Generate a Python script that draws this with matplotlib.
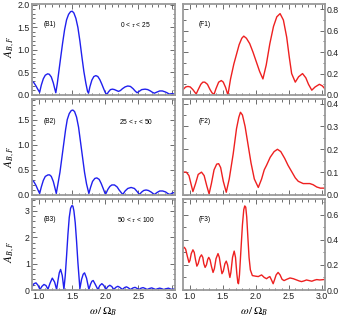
import matplotlib
matplotlib.use("Agg")
import matplotlib.pyplot as plt
from matplotlib.ticker import MultipleLocator

plt.rcParams['font.family'] = ['Liberation Sans', 'DejaVu Sans']
plt.rcParams['mathtext.fontset'] = 'stix'

# --- data ---
b1_x = [0.90, 0.93, 0.96, 0.99, 1.015, 1.04, 1.07, 1.10, 1.135, 1.16, 1.19, 1.22, 1.24, 1.258,
        1.28, 1.30, 1.33, 1.36, 1.39, 1.42, 1.45, 1.48, 1.505, 1.53, 1.56, 1.59, 1.62, 1.65,
        1.68, 1.71, 1.735, 1.75, 1.77, 1.80, 1.83, 1.86, 1.89, 1.92, 1.95, 1.98, 2.00, 2.025,
        2.05, 2.08, 2.11, 2.14, 2.17, 2.20, 2.23, 2.26, 2.30, 2.34, 2.38, 2.42, 2.45, 2.48,
        2.51, 2.55, 2.60, 2.64, 2.68, 2.71, 2.74, 2.77, 2.82, 2.86, 2.90, 2.93, 2.965, 3.00, 3.05]
b1_y = [0.31, 0.27, 0.20, 0.12, 0.06, 0.22, 0.36, 0.44, 0.47, 0.46, 0.40, 0.27, 0.15, 0.05,
        0.25, 0.48, 0.82, 1.15, 1.45, 1.67, 1.79, 1.85, 1.86, 1.82, 1.70, 1.50, 1.20, 0.85,
        0.52, 0.26, 0.08, 0.04, 0.18, 0.33, 0.41, 0.43, 0.41, 0.34, 0.24, 0.13, 0.06, 0.01,
        0.07, 0.12, 0.13, 0.12, 0.10, 0.08, 0.10, 0.14, 0.18, 0.20, 0.19, 0.14, 0.09, 0.05,
        0.08, 0.12, 0.13, 0.12, 0.09, 0.06, 0.04, 0.06, 0.09, 0.09, 0.07, 0.05, 0.02, 0.03, 0.02]

b2_x = [0.90, 0.93, 0.96, 0.99, 1.015, 1.04, 1.07, 1.10, 1.14, 1.165, 1.19, 1.22, 1.245, 1.265,
        1.29, 1.32, 1.35, 1.38, 1.405, 1.43, 1.46, 1.49, 1.515, 1.54, 1.57, 1.60, 1.63, 1.66,
        1.69, 1.72, 1.755, 1.78, 1.81, 1.845, 1.875, 1.91, 1.94, 1.97, 2.005, 2.04, 2.07,
        2.10, 2.14, 2.18, 2.21, 2.24, 2.265, 2.30, 2.34, 2.39, 2.44, 2.48, 2.515, 2.55, 2.58,
        2.615, 2.65, 2.69, 2.74, 2.78, 2.82, 2.865, 2.91, 2.94, 2.975, 3.01, 3.05]
b2_y = [0.30, 0.26, 0.19, 0.10, 0.03, 0.16, 0.29, 0.37, 0.40, 0.40, 0.37, 0.27, 0.14, 0.03,
        0.22, 0.45, 0.75, 1.05, 1.30, 1.50, 1.62, 1.68, 1.69, 1.66, 1.55, 1.35, 1.05, 0.75,
        0.45, 0.22, 0.03, 0.15, 0.27, 0.33, 0.34, 0.31, 0.23, 0.13, 0.01, 0.11, 0.17,
        0.20, 0.20, 0.16, 0.10, 0.05, 0.01, 0.08, 0.13, 0.15, 0.13, 0.07, 0.01, 0.06, 0.09,
        0.10, 0.09, 0.06, 0.01, 0.05, 0.08, 0.08, 0.06, 0.03, 0.01, 0.04, 0.05]

b3_x = [0.90, 0.93, 0.96, 0.99, 1.02, 1.05, 1.08, 1.11, 1.14, 1.17, 1.205, 1.24, 1.27,
        1.29, 1.31, 1.33, 1.355, 1.38, 1.40, 1.42, 1.44, 1.46, 1.48, 1.50, 1.515, 1.53, 1.55,
        1.57, 1.59, 1.62, 1.645, 1.67, 1.69, 1.72, 1.755, 1.78, 1.80, 1.82, 1.85, 1.89,
        1.92, 1.95, 1.98, 2.01, 2.04, 2.07, 2.10, 2.13, 2.16, 2.19, 2.22, 2.26, 2.29, 2.32,
        2.35, 2.38, 2.42, 2.45, 2.48, 2.51, 2.54, 2.57, 2.60, 2.63, 2.67, 2.70, 2.73, 2.76,
        2.79, 2.82, 2.85, 2.88, 2.92, 2.95, 2.98, 3.01, 3.05]
b3_y = [0.12, 0.24, 0.27, 0.18, 0.02, 0.14, 0.21, 0.17, 0.03, 0.25, 0.45, 0.30, 0.02,
        0.35, 0.65, 0.78, 0.55, 0.03, 0.55, 1.30, 2.10, 2.75, 3.10, 3.20, 3.18, 3.00, 2.55,
        1.85, 1.05, 0.05, 0.40, 0.60, 0.65, 0.45, 0.02, 0.22, 0.33, 0.36, 0.22, 0.02,
        0.17, 0.24, 0.17, 0.02, 0.13, 0.18, 0.13, 0.02, 0.10, 0.14, 0.10, 0.02, 0.09, 0.12,
        0.08, 0.02, 0.08, 0.10, 0.06, 0.02, 0.07, 0.09, 0.06, 0.02, 0.06, 0.08, 0.05, 0.02,
        0.05, 0.07, 0.05, 0.02, 0.05, 0.07, 0.04, 0.02, 0.05]

f1_x = [0.90, 0.94, 0.975, 1.01, 1.05, 1.08, 1.10, 1.13, 1.17, 1.20, 1.23, 1.27, 1.31, 1.34,
        1.37, 1.40, 1.44, 1.48, 1.51, 1.545, 1.58, 1.62, 1.67, 1.71, 1.75, 1.79, 1.82, 1.86,
        1.91, 1.96, 2.01, 2.06, 2.11, 2.16, 2.215, 2.27, 2.32, 2.37, 2.42, 2.47, 2.51, 2.545,
        2.60, 2.65, 2.71, 2.76, 2.80, 2.85, 2.90, 2.965, 3.01, 3.06]
f1_y = [0.05, 0.075, 0.08, 0.075, 0.05, 0.025, 0.01, 0.05, 0.10, 0.12, 0.12, 0.10, 0.05, 0.02,
        0.006, 0.06, 0.12, 0.135, 0.12, 0.07, 0.0, 0.15, 0.29, 0.38, 0.47, 0.53, 0.55, 0.53,
        0.48, 0.40, 0.31, 0.22, 0.15, 0.28, 0.48, 0.64, 0.73, 0.76, 0.70, 0.54, 0.35, 0.20,
        0.12, 0.17, 0.20, 0.16, 0.10, 0.045, 0.075, 0.10, 0.085, 0.05]

f2_x = [0.90, 0.95, 0.99, 1.02, 1.05, 1.09, 1.13, 1.18, 1.22, 1.26, 1.295, 1.33, 1.37, 1.41,
        1.44, 1.47, 1.51, 1.555, 1.60, 1.66, 1.71, 1.745, 1.77, 1.80, 1.84, 1.885, 1.93, 1.98,
        2.04, 2.09, 2.13, 2.165, 2.22, 2.28, 2.33, 2.38, 2.44, 2.49, 2.55, 2.60, 2.645, 2.72,
        2.78, 2.82, 2.87, 2.925, 2.98, 3.06]
f2_y = [0.10, 0.10, 0.085, 0.05, 0.015, 0.05, 0.09, 0.10, 0.085, 0.04, 0.005, 0.05, 0.11, 0.135,
        0.137, 0.12, 0.06, 0.012, 0.07, 0.18, 0.29, 0.34, 0.362, 0.35, 0.30, 0.22, 0.14, 0.07,
        0.033, 0.07, 0.11, 0.13, 0.165, 0.19, 0.20, 0.19, 0.16, 0.13, 0.10, 0.075, 0.06, 0.05,
        0.05, 0.05, 0.045, 0.035, 0.03, 0.03]

f3_x = [0.90, 0.92, 0.94, 0.965, 0.99, 1.005, 1.025, 1.05, 1.07, 1.09, 1.11, 1.13, 1.155,
        1.18, 1.20, 1.215, 1.235, 1.255, 1.275, 1.29, 1.31, 1.33, 1.355, 1.375, 1.40, 1.43,
        1.45, 1.47, 1.49, 1.51, 1.535, 1.555, 1.575, 1.595, 1.61, 1.625, 1.65, 1.675, 1.695,
        1.715, 1.73, 1.74, 1.755, 1.775, 1.80, 1.82, 1.835, 1.85, 1.865, 1.88, 1.90, 1.92,
        1.95, 2.00, 2.04, 2.07, 2.09, 2.13, 2.165, 2.19, 2.215, 2.24, 2.265, 2.285, 2.31,
        2.34, 2.37, 2.40, 2.43, 2.47, 2.52, 2.57, 2.62, 2.66, 2.695, 2.73, 2.77, 2.81, 2.85,
        2.89, 2.925, 2.97, 3.01, 3.06]
f3_y = [0.33, 0.34, 0.325, 0.27, 0.22, 0.235, 0.29, 0.32, 0.30, 0.24, 0.19, 0.21, 0.26,
        0.28, 0.26, 0.21, 0.18, 0.20, 0.245, 0.26, 0.24, 0.19, 0.14, 0.17, 0.25, 0.29,
        0.26, 0.19, 0.13, 0.15, 0.21, 0.23, 0.20, 0.14, 0.10, 0.14, 0.26, 0.31, 0.26,
        0.13, 0.06, 0.05, 0.12, 0.30, 0.52, 0.64, 0.67, 0.66, 0.58, 0.44, 0.26, 0.16,
        0.115, 0.11, 0.107, 0.115, 0.12, 0.10, 0.09, 0.10, 0.107, 0.08, 0.05, 0.08, 0.12,
        0.14, 0.12, 0.085, 0.075, 0.085, 0.096, 0.09, 0.08, 0.072, 0.067, 0.072, 0.08, 0.075, 0.07,
        0.078, 0.083, 0.08, 0.082, 0.085]

tags_b = ["(B1)", "(B2)", "(B3)"]
tags_f = ["(F1)", "(F2)", "(F3)"]
ranges = [r"0 < $\tau$ < 25", r"25 < $\tau$ < 50", r"50 < $\tau$ < 100"]

blue_series = [(b1_x, b1_y), (b2_x, b2_y), (b3_x, b3_y)]
red_series = [(f1_x, f1_y), (f2_x, f2_y), (f3_x, f3_y)]

# limits / ticks per row (left, right)
ylims_b = [2.02, 1.91, 3.45]
ymaj_b = [0.5, 0.5, 1.0]
ymin_b = [0.1, 0.1, 0.2]
ylims_f = [0.85, 0.42, 0.725]
ymaj_f = [0.2, 0.1, 0.2]
ymin_f = [0.1, 0.05, 0.1]

W, H = 345, 318
fig = plt.figure(figsize=(W / 100, H / 100), dpi=100)

rows_px = [(4, 95), (99, 195), (199, 290)]
cols_px = [(32, 175), (183, 325)]
ylab_pos = [0.53, 0.40, 0.42]

spine_c = '#9a9a9a'


def style(ax, ylim, maj, mnr, bottom, right):
    ax.set_xlim(0.9, 3.05)
    ax.set_ylim(0, ylim)
    ax.xaxis.set_major_locator(MultipleLocator(0.5))
    ax.xaxis.set_minor_locator(MultipleLocator(0.1))
    ax.yaxis.set_major_locator(MultipleLocator(maj))
    ax.yaxis.set_minor_locator(MultipleLocator(mnr))
    for s in ax.spines.values():
        s.set_color(spine_c)
        s.set_linewidth(1.3)
    ax.tick_params(which='both', direction='in', top=True, right=True,
                   color='#555555', width=0.6, labelsize=6.3, labelcolor='#222222', pad=1.5)
    ax.tick_params(which='major', length=3.5)
    ax.tick_params(which='minor', length=1.8)
    if not bottom:
        ax.tick_params(labelbottom=False)
    if right:
        ax.tick_params(labelleft=False, labelright=True)


for r in range(3):
    y0, y1 = rows_px[r]
    bottom = (H - y1) / H
    height = (y1 - y0) / H
    last = r == 2

    (x0, x1) = cols_px[0]
    axb = fig.add_axes([x0 / W, bottom, (x1 - x0) / W, height])
    axb.plot(blue_series[r][0], blue_series[r][1], color='#2020ee', lw=1.0)
    style(axb, ylims_b[r], ymaj_b[r], ymin_b[r], last, False)
    axb.text(1.175, 0.77, tags_b[r], transform=axb.get_xaxis_transform(),
             fontsize=4.8, ha='center', va='center')
    axb.text(2.46, 0.77, ranges[r], transform=axb.get_xaxis_transform(),
             fontsize=4.8, ha='center', va='center')
    axb.set_ylabel(r'$A_{B,F}$', fontsize=8, labelpad=0)
    axb.yaxis.set_label_coords(-0.105, ylab_pos[r])

    (x0, x1) = cols_px[1]
    axf = fig.add_axes([x0 / W, bottom, (x1 - x0) / W, height])
    axf.plot(red_series[r][0], red_series[r][1], color='#ee2020', lw=1.0)
    style(axf, ylims_f[r], ymaj_f[r], ymin_f[r], last, True)
    axf.text(1.23, 0.77, tags_f[r], transform=axf.get_xaxis_transform(),
             fontsize=4.8, ha='center', va='center')

    if last:
        axb.set_xlabel(r'$\omega\,/\,\Omega_B$', fontsize=8, labelpad=3)
        axf.set_xlabel(r'$\omega\,/\,\Omega_B$', fontsize=8, labelpad=3)

fig.savefig('out.png', dpi=100)
